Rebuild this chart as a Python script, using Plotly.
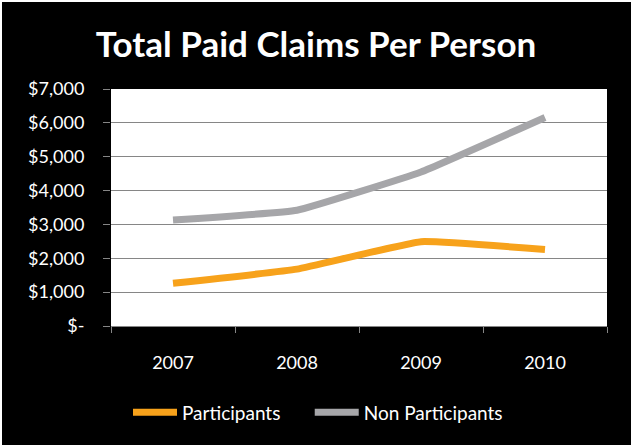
import plotly.graph_objects as go

years = ["2007", "2008", "2009", "2010"]
participants = [1260, 1680, 2490, 2260]
non_participants = [3130, 3420, 4550, 6160]
y_ticks = [0, 1000, 2000, 3000, 4000, 5000, 6000, 7000]
y_tick_labels = ["$-", "$1,000", "$2,000", "$3,000", "$4,000", "$5,000", "$6,000", "$7,000"]

FONT = "Lato"
W, H = 632, 446
ML, MR, MT, MB = 111, 25, 89, 120
PW, PH = W - ML - MR, H - MT - MB

fig = go.Figure()

# participants line (orange)
fig.add_trace(go.Scatter(
    x=years, y=participants, name="Participants\u00a0\u00a0\u00a0\u00a0\u00a0",
    mode="lines", line=dict(color="#F7A21B", width=7, shape="spline", smoothing=0.3),
))

# non participants line (gray)
fig.add_trace(go.Scatter(
    x=years, y=non_participants, name="Non Participants",
    mode="lines", line=dict(color="#A6A6A9", width=7, shape="spline", smoothing=0.3),
))

fig.update_layout(
    width=W, height=H,
    margin=dict(l=ML, r=MR, t=MT, b=MB, autoexpand=False),
    paper_bgcolor="black",
    plot_bgcolor="white",
    font=dict(family=FONT, color="white", size=18),
    title=dict(text="<b>Total Paid Claims Per Person</b>", x=0.5, xanchor="center",
               y=0.9, yanchor="middle", font=dict(size=35, color="white", family=FONT)),
    xaxis=dict(
        type="category", range=[-0.5, 3.5], tickson="boundaries",
        ticks="outside", ticklen=6, tickcolor="#868686",
        showline=True, linecolor="#868686", showgrid=False,
        ticklabelstandoff=20, tickfont=dict(size=18, color="white"),
    ),
    yaxis=dict(
        range=[0, 7000], tickvals=y_ticks, ticktext=y_tick_labels,
        ticks="outside", ticklen=7, tickcolor="#868686",
        showgrid=True, gridcolor="#868686", gridwidth=1,
        zeroline=False, showline=False,
        ticklabelstandoff=15, tickfont=dict(size=18, color="white"),
    ),
    legend=dict(orientation="h", x=(318 - ML) / PW, xanchor="center",
                y=-0.365, yanchor="middle",
                font=dict(size=19, color="white"), bgcolor="rgba(0,0,0,0)",
                itemwidth=44, tracegroupgap=0),
    showlegend=True,
)

# thin white edge round the black chart area (2px top/left, 1px bottom/right)
edges = [
    (-ML / PW, 1 + MR / PW, 1 + (MT - 2) / PH, 1 + MT / PH),
    (-ML / PW, 1 + MR / PW, -MB / PH, -(MB - 1) / PH),
    (-ML / PW, -(ML - 2) / PW, -MB / PH, 1 + MT / PH),
    (1 + (MR - 1) / PW, 1 + MR / PW, -MB / PH, 1 + MT / PH),
]
for x0, x1, y0, y1 in edges:
    fig.add_shape(type="rect", xref="paper", yref="paper", x0=x0, x1=x1, y0=y0, y1=y1,
                  fillcolor="white", line=dict(width=0), layer="above")

fig.write_html("out.html", config={"displayModeBar": False},
               post_script="document.body.style.margin='0';")
